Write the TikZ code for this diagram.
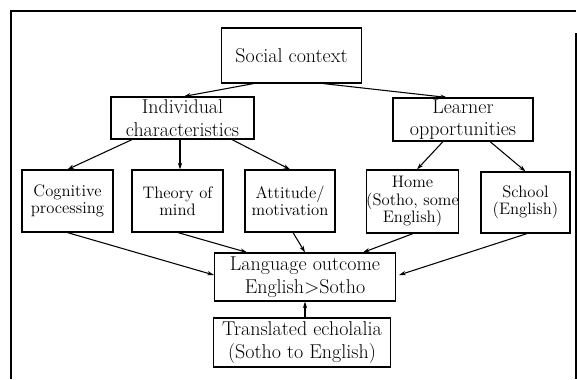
\documentclass[tikz,border=0pt]{standalone}
\usetikzlibrary{arrows.meta,calc}
\begin{document}
\begin{tikzpicture}[x=0.75pt,y=-0.75pt,
  bx/.style={draw, line width=0.9pt, align=center, inner sep=1pt},
  bigtxt/.style={font=\fontsize{15}{17}\selectfont},
  smalltxt/.style={font=\fontsize{12.5}{13}\selectfont},
  conn/.style={line width=0.8pt, -{Stealth[length=5pt,width=3.2pt]}},
  frame/.style={line width=1.1pt}]
\useasboundingbox (0,0) rectangle (577,379);
% frame
\coordinate (ftl) at (11,11);
\coordinate (ftr) at (576,11);
\coordinate (fbl) at (11,379);
\coordinate (frt) at (576,33);
\coordinate (frb) at (576,379);
\draw[frame] (fbl) -- (ftl) -- (ftr);
\draw[frame] (frt) -- (frb);
% nodes
\node[bx,bigtxt,minimum width=140*0.75pt,minimum height=55*0.75pt] (soc) at (291.5,55.5) {Social context};
\node[bx,bigtxt,minimum width=143*0.75pt,minimum height=42*0.75pt] (ind) at (182.5,118) {Individual\\characteristics};
\node[bx,bigtxt,minimum width=140*0.75pt,minimum height=41*0.75pt] (lrn) at (463,119.5) {Learner\\opportunities};
\node[bx,smalltxt,minimum width=91*0.75pt,minimum height=62*0.75pt] (cog) at (67.5,201) {Cognitive\\processing};
\node[bx,smalltxt,minimum width=91*0.75pt,minimum height=62*0.75pt] (tom) at (177.5,201) {Theory of\\mind};
\node[bx,smalltxt,minimum width=90*0.75pt,minimum height=62*0.75pt] (att) at (290,201) {Attitude/\\motivation};
\node[bx,smalltxt,inner xsep=0pt,minimum width=89*0.75pt,minimum height=63*0.75pt] (home) at (412.5,201.5) {Home\\(Sotho, some\\English)};
\node[bx,smalltxt,minimum width=89*0.75pt,minimum height=61*0.75pt] (sch) at (525.5,202.5) {School\\(English)};
\node[bx,bigtxt,minimum width=181*0.75pt,minimum height=48*0.75pt] (lang) at (305,277) {Language outcome\\English>Sotho};
\node[bx,bigtxt,minimum width=177*0.75pt,minimum height=49*0.75pt] (tra) at (302,342.5) {Translated echolalia\\(Sotho to English)};
% connectors
\draw[conn] ($(soc.south)+(-38,0)$) -- ($(ind.north)+(1.5,0)$);
\draw[conn] ($(soc.south)+(32,0)$) -- ($(lrn.north)+(-16,0)$);
\draw[conn] ($(ind.south)+(-50.5,0)$) -- (cog.north);
\draw[conn] ($(ind.south)+(-2.5,0)$) -- ($(tom.north)+(2.5,0)$);
\draw[conn] ($(ind.south)+(49.5,0)$) -- (att.north);
\draw[conn] ($(lrn.south)+(-20,0)$) -- ($(home.north)+(4.5,0)$);
\draw[conn] ($(lrn.south)+(27,0)$) -- (sch.north);
\draw[conn] (cog.south) -- ($(lang.west)+(0,-2)$);
\draw[conn] ($(tom.south)+(0.5,0)$) -- ($(lang.north)+(-58,0)$);
\draw[conn] ($(att.south)+(3,0)$) -- (lang.north);
\draw[conn] ($(home.south)+(0.5,0)$) -- ($(lang.north)+(58,0)$);
\draw[conn] ($(sch.south)+(1.5,0)$) -- ($(lang.east)+(3,-2)$);
\draw[conn] (tra.north -| lang.south) -- (lang.south);
\end{tikzpicture}
\end{document}
